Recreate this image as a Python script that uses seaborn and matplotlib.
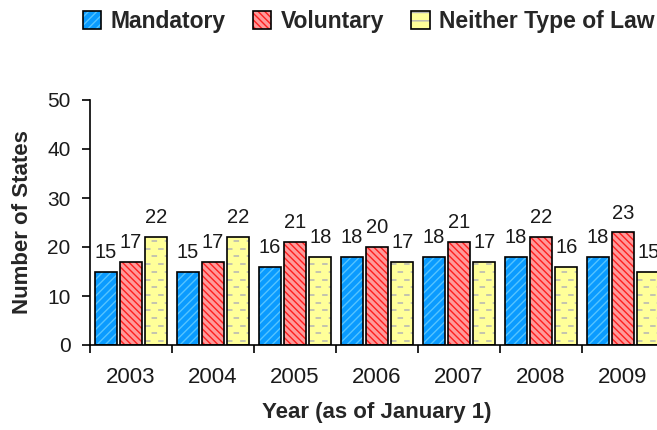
import matplotlib
matplotlib.use("Agg")
import matplotlib.pyplot as plt
from matplotlib.patches import Rectangle, Patch
import numpy as np
import pandas as pd
import seaborn as sns

years = ["2003", "2004", "2005", "2006", "2007", "2008", "2009"]
mandatory = [15, 15, 16, 18, 18, 18, 18]
voluntary = [17, 17, 21, 20, 21, 22, 23]
neither = [22, 22, 18, 17, 17, 16, 15]
series = ["Mandatory", "Voluntary", "Neither Type of Law"]

fills = ["#0A9BFF", "#FF9A9A", "#FFFF99"]
hatch_colors = ["#55C4FF", "#FF1E1E", "#B4B4B4"]
hatches = ["////", "\\\\\\\\\\", ""]

df = pd.DataFrame({
    "Year": years * 3,
    "States": mandatory + voluntary + neither,
    "Law": [s for s in series for _ in years],
})

sns.set_style("white")
plt.rcParams["font.family"] = ["Liberation Sans", "DejaVu Sans"]
plt.rcParams["hatch.linewidth"] = 1.0

fig = plt.figure(figsize=(6.57, 4.30), dpi=100)
ax = fig.add_axes([90 / 657, 1 - 345 / 430, 574 / 657, 245 / 430])

sns.barplot(data=df, x="Year", y="States", hue="Law", hue_order=series,
            palette=fills, width=0.93, gap=0.14, ax=ax, legend=False,
            errorbar=None, saturation=1)

for k, cont in enumerate(ax.containers):
    for bar in cont:
        x0, y0 = bar.get_x(), bar.get_y()
        w, h = bar.get_width(), bar.get_height()
        if hatches[k]:
            bar.set_hatch(hatches[k])
            bar.set_edgecolor(hatch_colors[k])
            bar.set_linewidth(0)
        else:
            bar.set_linewidth(0)
            # short staggered dashes inside the yellow bars
            step = 1.57
            yy = y0 + 0.8
            row = 0
            while yy < y0 + h - 0.3:
                off = 0.0 if row % 2 == 0 else 4.3
                ln, = ax.plot([x0, x0 + w], [yy, yy], color=hatch_colors[k],
                              lw=1.1, linestyle=(off, (3.6, 5.0)),
                              solid_capstyle="butt", dash_capstyle="butt",
                              zorder=bar.get_zorder() + 0.1)
                ln.set_clip_path(bar)
                yy += step
                row += 1
        ax.add_patch(Rectangle((x0, y0), w, h, fill=False, edgecolor="black",
                               lw=1.2, zorder=bar.get_zorder() + 0.2))
    ax.bar_label(cont, labels=[str(int(b.get_height())) for b in cont],
                 padding=7, fontsize=14.5, color="#1a1a1a")

ax.set_ylim(0, 50)
ax.set_xlim(-0.5, 6.5)
ax.set_yticks(range(0, 51, 10))
ax.tick_params(axis="y", labelsize=15, length=6, width=1.2, pad=8,
               left=True, color="black", labelcolor="#1a1a1a")
ax.set_xticks(np.arange(-0.5, 7.0, 1.0))
ax.set_xticklabels([])
ax.set_xticks(range(len(years)), minor=True)
ax.set_xticklabels(years, minor=True)
ax.tick_params(axis="x", which="major", length=6, width=1.2, bottom=True,
               direction="out", color="black")
ax.tick_params(axis="x", which="minor", length=0, labelsize=16, pad=16,
               labelcolor="#1a1a1a")

for side in ["top", "right"]:
    ax.spines[side].set_visible(False)
for side in ["left", "bottom"]:
    ax.spines[side].set_color("black")
    ax.spines[side].set_linewidth(1.2)

ax.set_ylabel("Number of States", fontsize=16, fontweight="bold", labelpad=10)
ax.set_xlabel("Year (as of January 1)", fontsize=16, fontweight="bold",
              labelpad=10)

handles = []
for k in range(3):
    base = Patch(facecolor=fills[k], edgecolor=hatch_colors[k], linewidth=0,
                 hatch=hatches[k] if hatches[k] else "--")
    outline = Patch(facecolor="none", edgecolor="black", linewidth=1.2)
    handles.append((base, outline))
fig.legend(handles, series, loc="center", bbox_to_anchor=(0.561, 0.95),
           ncol=3, frameon=False, handlelength=0.8, handleheight=0.8,
           handletextpad=0.4, columnspacing=1.2,
           prop={"size": 16.5, "weight": "bold"})

fig.savefig("out.png", dpi=100)
